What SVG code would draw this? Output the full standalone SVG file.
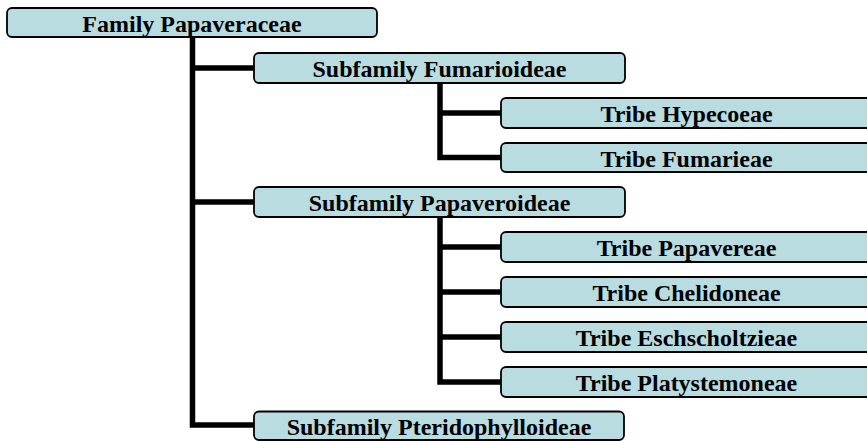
<svg xmlns="http://www.w3.org/2000/svg" width="867" height="441" viewBox="0 0 867 441">
<style>
.box{fill:#b9dce0;stroke:#000;stroke-width:1.8}
.t{font-family:"Liberation Serif","Times New Roman",serif;font-weight:bold;font-size:24px;fill:#000;text-anchor:middle}
.c{fill:none;stroke:#000;stroke-width:5.5;stroke-linejoin:miter}
</style>
<rect width="867" height="441" fill="#fff"/>
<g id="connectors">
<path class="c" d="M192.5,37 V425 H254 M192.5,68 H254 M192.5,202 H254"/>
<path class="c" d="M440,83 V157.5 H502 M440,113 H502"/>
<path class="c" d="M440,217 V382 H502 M440,247 H502 M440,292 H502 M440,337 H502"/>
</g>
<g id="family"><rect class="box" x="7" y="8" width="370" height="29" rx="5"/><text class="t" x="192" y="32">Family Papaveraceae</text></g>
<g id="fumarioideae"><rect class="box" x="254" y="53" width="371" height="30" rx="5"/><text class="t" x="439.5" y="77">Subfamily Fumarioideae</text></g>
<g id="hypecoeae"><rect class="box" x="501" y="98" width="372" height="30" rx="5"/><text class="t" x="686.5" y="122">Tribe Hypecoeae</text></g>
<g id="fumarieae"><rect class="box" x="501" y="143" width="372" height="29" rx="5"/><text class="t" x="686.5" y="166.5">Tribe Fumarieae</text></g>
<g id="papaveroideae"><rect class="box" x="254" y="187" width="371" height="30" rx="5"/><text class="t" x="439.5" y="211">Subfamily Papaveroideae</text></g>
<g id="papavereae"><rect class="box" x="501" y="232" width="372" height="30" rx="5"/><text class="t" x="686.5" y="256">Tribe Papavereae</text></g>
<g id="chelidoneae"><rect class="box" x="501" y="277" width="372" height="30" rx="5"/><text class="t" x="686.5" y="301">Tribe Chelidoneae</text></g>
<g id="eschscholtzieae"><rect class="box" x="501" y="322" width="372" height="30" rx="5"/><text class="t" x="686.5" y="346">Tribe Eschscholtzieae</text></g>
<g id="platystemoneae"><rect class="box" x="501" y="367" width="372" height="30" rx="5"/><text class="t" x="686.5" y="391">Tribe Platystemoneae</text></g>
<g id="pteridophylloideae"><rect class="box" x="254" y="411.5" width="370" height="28.5" rx="5"/><text class="t" x="439" y="435">Subfamily Pteridophylloideae</text></g>
</svg>
